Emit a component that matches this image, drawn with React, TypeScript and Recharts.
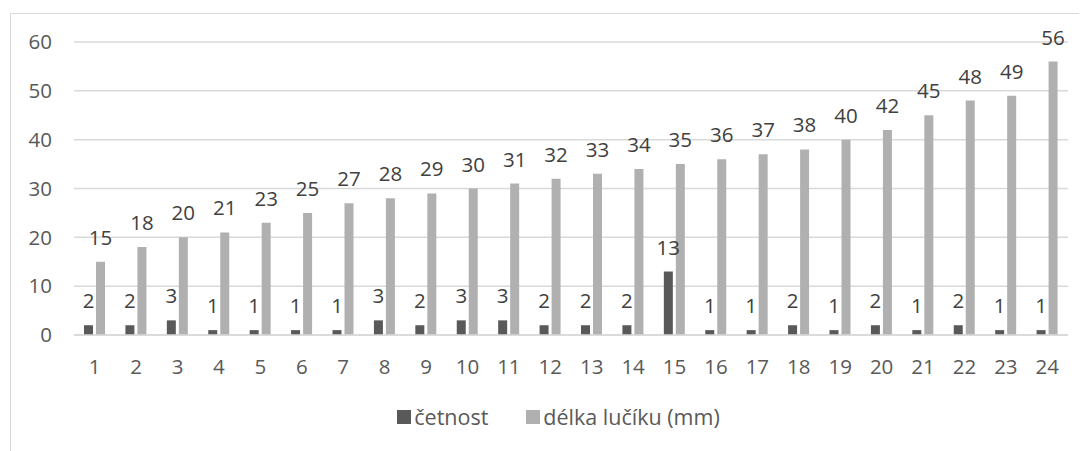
import React from 'react';
import { BarChart, Bar, XAxis, YAxis, CartesianGrid, Legend, LabelList } from 'recharts';

const categories: string[] = [
  '1', '2', '3', '4', '5', '6', '7', '8', '9', '10', '11', '12',
  '13', '14', '15', '16', '17', '18', '19', '20', '21', '22', '23', '24',
];
const cetnost: number[] = [2, 2, 3, 1, 1, 1, 1, 3, 2, 3, 3, 2, 2, 2, 13, 1, 1, 2, 1, 2, 1, 2, 1, 1];
const delka: number[] = [15, 18, 20, 21, 23, 25, 27, 28, 29, 30, 31, 32, 33, 34, 35, 36, 37, 38, 40, 42, 45, 48, 49, 56];
const yTicks: number[] = [0, 10, 20, 30, 40, 50, 60];

const seriesNames: string[] = ['četnost', 'délka lučíku (mm)'];
const seriesColors: string[] = ['#595959', '#b0b0b0'];

const data = categories.map((name, i) => ({ name, cetnost: cetnost[i], delka: delka[i] }));

const font = '"Open Sans", "Noto Sans", sans-serif';

// legend drawn by hand so the order and spacing match the original
const renderLegend = () => (
  <div
    style={{
      display: 'flex',
      justifyContent: 'center',
      gap: 38,
      paddingLeft: 38,
      fontSize: 21.5,
      color: '#595959',
      fontFamily: font,
    }}
  >
    {seriesNames.map((n, i) => (
      <div key={n} style={{ display: 'flex', alignItems: 'center', lineHeight: '24px' }}>
        <span style={{ display: 'inline-block', width: 14, height: 14, background: seriesColors[i], marginRight: 3 }} />
        {n}
      </div>
    ))}
  </div>
);

const App = () => {
  return (
    <div
      style={{
        marginLeft: 2,
        marginTop: 5,
        width: 1090,
        height: 450,
        border: '1px solid #d9d9d9',
        fontFamily: font,
      }}
    >
      <BarChart
        width={1090}
        height={437}
        data={data}
        margin={{ top: 28, right: 33, left: 0, bottom: 0 }}
        barGap={3}
      >
        <CartesianGrid vertical={false} stroke="#d9d9d9" strokeWidth={1.5} />
        <XAxis
          dataKey="name"
          axisLine={{ stroke: '#d9d9d9', strokeWidth: 1.5 }}
          tickLine={false}
          tickSize={0}
          tickMargin={24}
          height={76}
          tick={{ fill: '#595959', fontSize: 20.5, fontFamily: font }}
        />
        <YAxis
          domain={[0, 60]}
          ticks={yTicks}
          axisLine={false}
          tickLine={false}
          tickSize={0}
          tickMargin={22}
          width={63}
          tick={{ fill: '#595959', fontSize: 20.5, fontFamily: font }}
        />
        <Legend height={40} content={renderLegend} wrapperStyle={{ top: 391 }} />
        <Bar dataKey="cetnost" name={seriesNames[0]} fill={seriesColors[0]} barSize={9} isAnimationActive={false}>
          <LabelList dataKey="cetnost" position="top" offset={17} fill="#404040" fontSize={20.5} fontFamily={font} />
        </Bar>
        <Bar dataKey="delka" name={seriesNames[1]} fill={seriesColors[1]} barSize={9} isAnimationActive={false}>
          <LabelList dataKey="delka" position="top" offset={17} fill="#404040" fontSize={20.5} fontFamily={font} />
        </Bar>
      </BarChart>
    </div>
  );
};

export default App;
